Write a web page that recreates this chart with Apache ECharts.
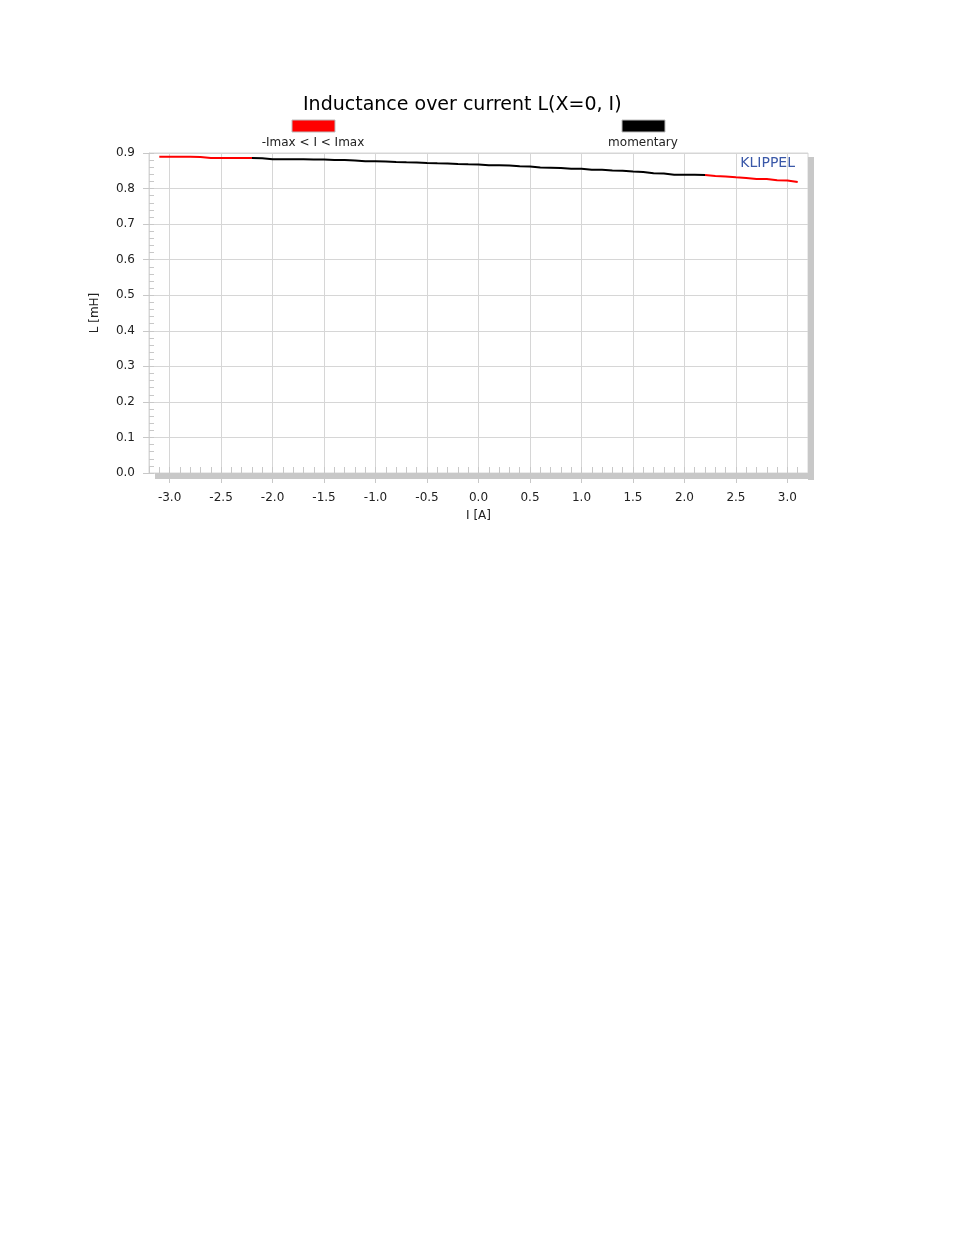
<!DOCTYPE html>
<html><head><meta charset="utf-8">
<script src="https://cdn.jsdelivr.net/npm/echarts@6/dist/echarts.min.js"></script>
<style>html,body{margin:0;padding:0;background:#fff}#c{width:954px;height:1235px}</style>
</head><body><div id="c"></div>
<script>
const titleText = 'Inductance over current L(X=0, I)';
const legendNames = ['-Imax < I < Imax', 'momentary'];
const xTickValues = [-3.0, -2.5, -2.0, -1.5, -1.0, -0.5, 0.0, 0.5, 1.0, 1.5, 2.0, 2.5, 3.0];
// current I [A]
const currentI = [-3.1,-3.0,-2.9,-2.8,-2.7,-2.6,-2.5,-2.4,-2.3,-2.2,-2.1,-2.0,-1.9,-1.8,-1.7,-1.6,-1.5,-1.4,-1.3,-1.2,-1.1,-1.0,-0.9,-0.8,-0.7,-0.6,-0.5,-0.4,-0.3,-0.2,-0.1,0.0,0.1,0.2,0.3,0.4,0.5,0.6,0.7,0.8,0.9,1.0,1.1,1.2,1.3,1.4,1.5,1.6,1.7,1.8,1.9,2.0,2.1,2.2,2.3,2.4,2.5,2.6,2.7,2.8,2.9,3.0,3.1];
// inductance L [mH]
const inductance = [0.8895,0.8895,0.8895,0.8895,0.8890,0.8858,0.8858,0.8858,0.8858,0.8858,0.8850,0.8822,0.8822,0.8822,0.8822,0.8820,0.8816,0.8802,0.8800,0.8788,0.8766,0.8766,0.8764,0.8746,0.8737,0.8735,0.8718,0.8709,0.8707,0.8690,0.8681,0.8679,0.8653,0.8653,0.8648,0.8625,0.8623,0.8591,0.8586,0.8577,0.8557,0.8555,0.8529,0.8527,0.8507,0.8502,0.8479,0.8465,0.8428,0.8422,0.8389,0.8389,0.8387,0.8380,0.8352,0.8338,0.8316,0.8296,0.8268,0.8266,0.8231,0.8229,0.8183];
// momentary range
const momentaryMin = -2.2, momentaryMax = 2.2;

const eps = 1e-9;
const inMom = x => x >= momentaryMin - eps && x <= momentaryMax + eps;
const redData = currentI.map((x, i) => (x > momentaryMin + eps && x < momentaryMax - eps) ? [x, null] : [x, inductance[i]]);
const momData = currentI.map((x, i) => [x, inductance[i]]).filter(d => inMom(d[0]));

const font = '"DejaVu Sans", Verdana, sans-serif';
const gridL = 149, gridT = 153, gridW = 659, gridH = 320;

const chart = echarts.init(document.getElementById('c'), null, {renderer: 'canvas'});
chart.setOption({
  animation: false,
  backgroundColor: '#fff',
  title: {text: titleText, left: 298, top: 91, textStyle: {fontFamily: font, fontSize: 19, fontWeight: 'normal', color: '#000'}},
  grid: {left: gridL, top: gridT, width: gridW, height: gridH, show: true, borderColor: '#d6d6d6', borderWidth: 1},
  xAxis: [{
    type: 'value', min: -3.2, max: 3.2,
    name: 'I [A]', nameLocation: 'middle', nameGap: 37,
    nameTextStyle: {fontFamily: font, fontSize: 12, color: '#222'},
    axisLine: {show: false, onZero: false},
    axisTick: {show: true, inside: false, length: 10, lineStyle: {color: '#c8c8c8'}, customValues: xTickValues},
    axisLabel: {customValues: xTickValues, margin: 19, fontFamily: font, fontSize: 12, color: '#222', formatter: v => v.toFixed(1)},
    splitLine: {show: true, lineStyle: {color: '#d6d6d6', width: 1}}
  }, {
    type: 'value', min: -3.2, max: 3.2, interval: 0.1, position: 'bottom',
    axisLine: {show: false, onZero: false}, axisLabel: {show: false}, splitLine: {show: false},
    axisTick: {show: true, inside: true, length: 6, lineStyle: {color: '#c8c8c8'}}
  }],
  yAxis: [{
    type: 'value', min: 0, max: 0.9, interval: 0.1, position: 'left',
    name: 'L [mH]', nameLocation: 'middle', nameGap: 48, nameRotate: 90,
    nameTextStyle: {fontFamily: font, fontSize: 12, color: '#222'},
    axisLine: {show: true, onZero: false, lineStyle: {color: '#d6d6d6'}},
    axisTick: {show: true, inside: false, length: 6, lineStyle: {color: '#c8c8c8'}},
    axisLabel: {margin: 14, fontFamily: font, fontSize: 12, color: '#222', formatter: v => v.toFixed(1)},
    splitLine: {show: true, lineStyle: {color: '#d6d6d6', width: 1}}
  }, {
    type: 'value', min: 0, max: 0.9, interval: 0.02, position: 'left',
    axisLine: {show: false, onZero: false}, axisLabel: {show: false}, splitLine: {show: false},
    axisTick: {show: true, inside: true, length: 5, lineStyle: {color: '#c8c8c8'}}
  }],
  series: [{
    name: legendNames[0], type: 'line', data: redData, showSymbol: false, symbol: 'none', connectNulls: false,
    lineStyle: {color: '#ff0000', width: 2}, z: 3
  }, {
    name: legendNames[1], type: 'line', data: momData, showSymbol: false, symbol: 'none',
    lineStyle: {color: '#000000', width: 2}, z: 4
  }],
  graphic: [
    {type: 'rect', shape: {x: gridL + gridW, y: 157, width: 6, height: 323}, style: {fill: '#c8c8c8'}, z: 10},
    {type: 'rect', shape: {x: 155, y: gridT + gridH, width: gridL + gridW + 6 - 155, height: 6}, style: {fill: '#c8c8c8'}, z: 10},
    {type: 'rect', shape: {x: 292, y: 120, width: 43, height: 12}, style: {fill: '#ff0000', stroke: '#bbbbbb', lineWidth: 1}, z: 10},
    {type: 'text', x: 313, y: 143, style: {text: legendNames[0], fill: '#222', font: '12px ' + font, textAlign: 'center', textVerticalAlign: 'middle'}, z: 10},
    {type: 'rect', shape: {x: 622, y: 120, width: 43, height: 12}, style: {fill: '#000000', stroke: '#bbbbbb', lineWidth: 1}, z: 10},
    {type: 'text', x: 643, y: 143, style: {text: legendNames[1], fill: '#222', font: '12px ' + font, textAlign: 'center', textVerticalAlign: 'middle'}, z: 10},
    {type: 'text', x: 795, y: 163, style: {text: 'KLIPPEL', fill: '#3a58a8', font: '14px ' + font, textAlign: 'right', textVerticalAlign: 'middle'}, z: 10}
  ]
});
</script></body></html>
